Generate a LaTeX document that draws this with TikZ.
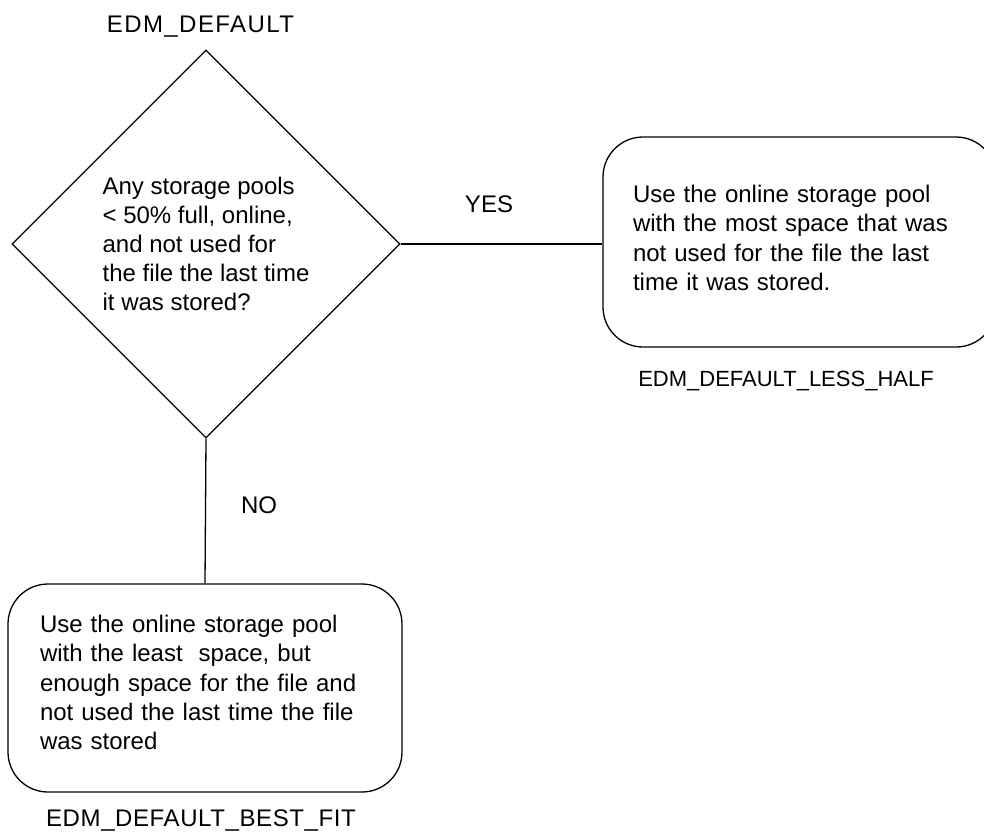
\documentclass[tikz,border=0pt]{standalone}
\usepackage{fontspec}
\setmainfont{Liberation Sans}
\usetikzlibrary{shapes.geometric}

\begin{document}
\begin{tikzpicture}[x=1pt,y=-1pt,
    line/.style={draw=black,line width=1.3pt},
    body/.style={font=\fontsize{24}{29.2}\selectfont,align=left},
    tag/.style={font=\fontsize{24}{29}\selectfont,inner sep=0pt,anchor=base},
    decision/.style={line,diamond,body,inner sep=0pt,
                     minimum width=388pt,minimum height=388pt},
    action/.style={line,rectangle,rounded corners=40pt,body,inner ysep=0pt}]

  % page frame
  \useasboundingbox (0,0) rectangle (984,831);
  \fill[white] (0,0) rectangle (984,831);

  % decision
  \node[decision] (dia) at (206,244)
    {Any storage pools\\ < 50\% full, online,\\ and not used for\\ the file the last time\\ it was stored?};

  % outcome boxes (text depth lifts the text block slightly above centre)
  \node[action,inner xsep=30pt,text width=333pt,minimum height=210pt,
        text depth=96pt] (less) at (799.5,242)
    {Use the online storage pool\\ with the most space that was\\ not used for the file the last\\ time it was stored.};

  \node[action,inner xsep=32pt,text width=330pt,minimum height=208pt,
        text depth=128pt] (best) at (205,688)
    {Use the online storage pool\\ with the least\ \ space, but\\ enough space for the file and\\ not used the last time the file\\ was stored};

  % connectors
  \draw[line] (dia.east) -- (dia.east -| less.west);
  \draw[line] (dia.south) -- (best.north);

  % branch labels
  \node[tag] (yes) at (489,212) {YES};
  \node[tag] (no) at (259,513) {NO};

  % mode names
  \node[tag,font=\fontsize{24}{29}\selectfont\addfontfeature{LetterSpace=6}] (nmdef) at (200.5,32) {EDM\_DEFAULT};
  \node[tag,font=\fontsize{22}{26}\selectfont] (nmless) at (786,386) {EDM\_DEFAULT\_LESS\_HALF};
  \node[tag,font=\fontsize{24}{29}\selectfont\addfontfeature{LetterSpace=2.5}] (nmbest) at (201,826) {EDM\_DEFAULT\_BEST\_FIT};
\end{tikzpicture}
\end{document}
